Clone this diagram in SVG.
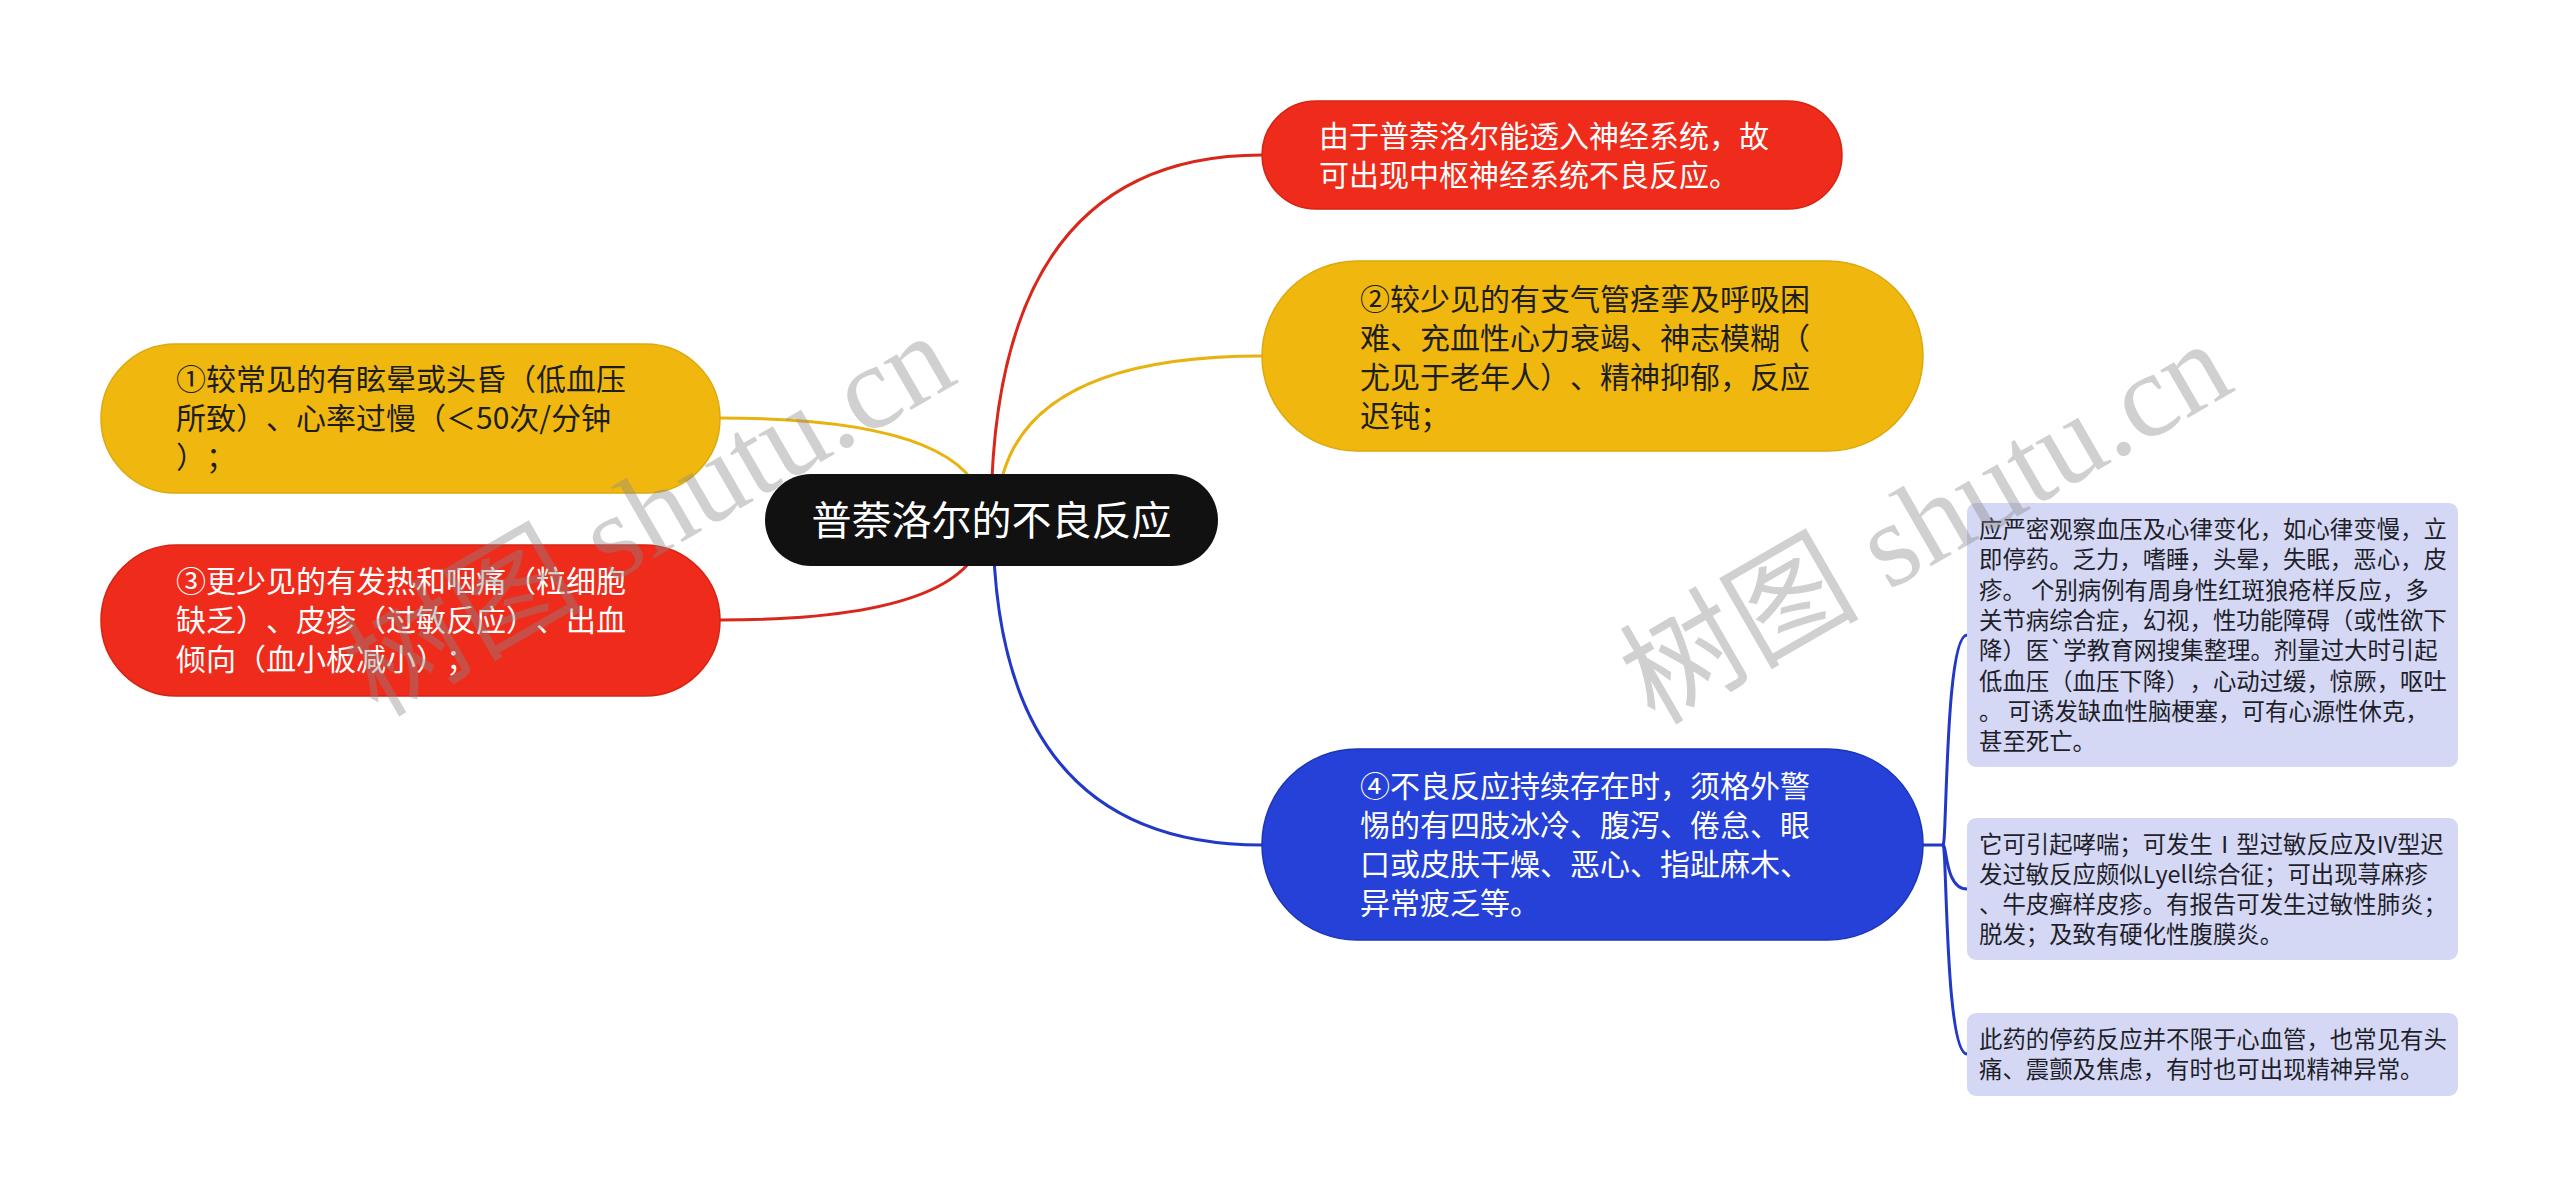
<svg xmlns="http://www.w3.org/2000/svg" width="2560" height="1196" viewBox="0 0 2560 1196">
<style>
text{text-spacing-trim:space-all;font-kerning:none}
.t{font-family:"Noto Sans CJK SC","Noto Sans",sans-serif;font-size:30px}
.w{fill:#ffffff}
.k{fill:#1e1e1e}
.d{font-family:"Noto Sans CJK SC","Noto Sans",sans-serif;font-size:23.4px;fill:#1f1f2a}
.c{fill:none;stroke-width:3;stroke-linecap:round}
.red{fill:#ef2b1b;stroke:#d62313;stroke-width:1.5}
.yel{fill:#f0b80e;stroke:#dca80c;stroke-width:1.5}
.blu{fill:#2541d8;stroke:#1d35b8;stroke-width:1.5}
.det{fill:#d4d8f5}
.wm{font-family:"Liberation Serif","Noto Sans CJK SC",serif;font-size:120px;fill:#8a8a8a;fill-opacity:0.4}
</style>
<rect width="2560" height="1196" fill="#ffffff"/>
<g id="connectors">
<path class="c" stroke="#d8281b" d="M991,520 Q991,155 1262,155"/>
<path class="c" stroke="#e8b20f" d="M997,520 Q997,356 1262,356"/>
<path class="c" stroke="#2239c8" d="M993,520 Q993,845 1262,845"/>
<path class="c" stroke="#e8b20f" d="M985,520 Q985,418 720,418"/>
<path class="c" stroke="#d8281b" d="M985,520 Q985,620 720,620"/>
<path class="c" stroke="#2239c8" d="M1922,845 L1943,845"/>
<path class="c" stroke="#2239c8" d="M1943,845 C1947,845 1945,635 1967,635"/>
<path class="c" stroke="#2239c8" d="M1943,845 C1947,845 1945,889 1967,889"/>
<path class="c" stroke="#2239c8" d="M1943,845 C1947,845 1945,1054 1967,1054"/>
</g>
<g id="root">
<rect x="765" y="474" width="453" height="92" rx="46" fill="#111111"/>
<text class="t w" x="991.5" y="535" text-anchor="middle" style="font-size:40px">普萘洛尔的不良反应</text>
</g>
<g id="node-cns">
<rect class="red" x="1262" y="101" width="580" height="108" rx="54"/>
<text class="t w" x="1319" y="147">由于普萘洛尔能透入神经系统，故</text>
<text class="t w" x="1319" y="186">可出现中枢神经系统不良反应。</text>
</g>
<g id="node-2">
<rect class="yel" x="1262" y="261" width="661" height="190" rx="95"/>
<text class="t k" x="1360" y="310">②较少见的有支气管痉挛及呼吸困</text>
<text class="t k" x="1360" y="349">难、充血性心力衰竭、神志模糊（</text>
<text class="t k" x="1360" y="388">尤见于老年人）、精神抑郁，反应</text>
<text class="t k" x="1360" y="427">迟钝；</text>
</g>
<g id="node-4">
<rect class="blu" x="1262" y="749" width="661" height="191" rx="95"/>
<text class="t w" x="1360" y="797">④不良反应持续存在时，须格外警</text>
<text class="t w" x="1360" y="836">惕的有四肢冰冷、腹泻、倦怠、眼</text>
<text class="t w" x="1360" y="875">口或皮肤干燥、恶心、指趾麻木、</text>
<text class="t w" x="1360" y="914">异常疲乏等。</text>
</g>
<g id="node-1">
<rect class="yel" x="101" y="344" width="619" height="149" rx="74.5"/>
<text class="t k" x="176" y="390">①较常见的有眩晕或头昏（低血压</text>
<text class="t k" x="176" y="429">所致）、心率过慢（＜50次/分钟</text>
<text class="t k" x="176" y="468">）；</text>
</g>
<g id="node-3">
<rect class="red" x="101" y="545" width="619" height="151" rx="75.5"/>
<text class="t w" x="176" y="592">③更少见的有发热和咽痛（粒细胞</text>
<text class="t w" x="176" y="631">缺乏）、皮疹（过敏反应）、出血</text>
<text class="t w" x="176" y="670">倾向（血小板减小）；</text>
</g>
<g id="detail-1">
<rect class="det" x="1967" y="503" width="491" height="264" rx="9"/>
<text class="d" x="1979" y="538">应严密观察血压及心律变化，如心律变慢，立</text>
<text class="d" x="1979" y="568.3">即停药。乏力，嗜睡，头晕，失眠，恶心，皮</text>
<text class="d" x="1979" y="598.6">疹。 个别病例有周身性红斑狼疮样反应，多</text>
<text class="d" x="1979" y="628.9">关节病综合症，幻视，性功能障碍（或性欲下</text>
<text class="d" x="1979" y="659.2">降）医`学教育网搜集整理。剂量过大时引起</text>
<text class="d" x="1979" y="689.5">低血压（血压下降），心动过缓，惊厥，呕吐</text>
<text class="d" x="1979" y="719.8">。 可诱发缺血性脑梗塞，可有心源性休克，</text>
<text class="d" x="1979" y="750.1">甚至死亡。</text>
</g>
<g id="detail-2">
<rect class="det" x="1967" y="818" width="491" height="142" rx="9"/>
<text class="d" x="1979" y="852.5">它可引起哮喘；可发生Ⅰ型过敏反应及IV型迟</text>
<text class="d" x="1979" y="882.8">发过敏反应颇似Lyell综合征；可出现荨麻疹</text>
<text class="d" x="1979" y="913.1">、牛皮癣样皮疹。有报告可发生过敏性肺炎；</text>
<text class="d" x="1979" y="943.4">脱发；及致有硬化性腹膜炎。</text>
</g>
<g id="detail-3">
<rect class="det" x="1967" y="1013" width="491" height="83" rx="9"/>
<text class="d" x="1979" y="1048">此药的停药反应并不限于心血管，也常见有头</text>
<text class="d" x="1979" y="1078.3">痛、震颤及焦虑，有时也可出现精神异常。</text>
</g>
<g id="watermark">
<text class="wm" transform="translate(649,515) rotate(-30)" x="0" y="40" text-anchor="middle">树图 shutu.cn</text>
<text class="wm" transform="translate(1926,523) rotate(-30)" x="0" y="40" text-anchor="middle">树图 shutu.cn</text>
</g>
</svg>
